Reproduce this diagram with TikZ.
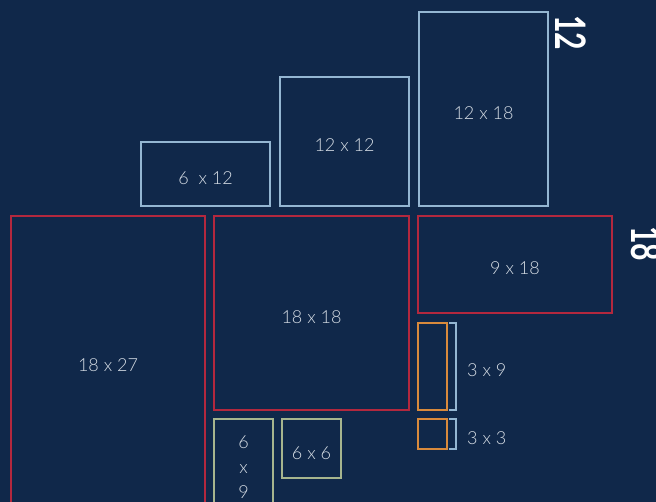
\documentclass[tikz,border=0pt]{standalone}
\usepackage{fontspec}
\setmainfont{Lato}
\newfontfamily\thinfont{Lato Light}
\usetikzlibrary{positioning}
\definecolor{PNavy}{HTML}{10284A}
\definecolor{PSky}{HTML}{94B6D2}
\definecolor{PRed}{HTML}{B3283E}
\definecolor{POrange}{HTML}{D98A3C}
\definecolor{PSage}{HTML}{A6B58E}
\definecolor{PText}{HTML}{D6DDE5}

\begin{document}
\begin{tikzpicture}[x=1pt,y=-1pt,
    box/.style={draw,line width=1.7pt,inner sep=0pt,outer sep=0pt,anchor=north west,text=PText,text height=21pt,text depth=0pt,font=\thinfont\fontsize{18}{25}\selectfont},
    skybox/.style={box,draw=PSky},
    redbox/.style={box,draw=PRed},
    orangebox/.style={box,draw=POrange},
    sagebox/.style={box,draw=PSage},
    sizelabel/.style={inner sep=0pt,text=PText,text height=21pt,text depth=0pt,font=\thinfont\fontsize{18}{25}\selectfont},
    bigside/.style={inner sep=0pt,text=white,rotate=-90,font=\bfseries\fontsize{42}{42}\selectfont},
    bracket/.style={draw=PSky,line width=1.2pt}]
    \fill[PNavy] (0,0) rectangle (656,502);
    \clip (0,0) rectangle (656,502);

    \node[redbox,minimum width=194,minimum height=291] (s1827) at (11,216) {18 x 27};
    \node[redbox,minimum width=195,minimum height=194,right=9pt of s1827.north east,anchor=north west] (s1818) {18 x 18};
    \node[redbox,minimum width=194,minimum height=97,right=9pt of s1818.north east,anchor=north west] (s918) {9 x 18};

    \node[skybox,minimum width=129,minimum height=64] (s612) at (141,142) {6 \ x 12};
    \node[skybox,minimum width=129,minimum height=129,right=10pt of s612.south east,anchor=south west] (s1212) {12 x 12};
    \node[skybox,minimum width=129,minimum height=194,right=10pt of s1212.south east,anchor=south west] (s1218) {12 x 18};

    \node[sagebox,minimum width=59,minimum height=97,text height=,text depth=,align=center,below=9pt of s1818.south west,anchor=north west] (s69) {6\\x\\9};
    \node[sagebox,minimum width=59,minimum height=59,right=9pt of s69.north east,anchor=north west] (s66) {6 x 6};

    \node[orangebox,minimum width=29,minimum height=87,below=10pt of s918.south west,anchor=north west] (s39) {};
    \node[orangebox,minimum width=29,minimum height=30,below=9pt of s39.south west,anchor=north west] (s33) {};

    \draw[bracket] ([xshift=2pt]s39.north east) -- ++(7,0) |- ([xshift=2pt]s39.south east);
    \draw[bracket] ([xshift=2pt]s33.north east) -- ++(7,0) |- ([xshift=2pt]s33.south east);
    \node[sizelabel,right=20pt of s39] (l39) {3 x 9};
    \node[sizelabel,right=20pt of s33] (l33) {3 x 3};

    \node[bigside] (side12) at (571,33) {\scalebox{0.72}[1]{12}};
    \node[bigside] (side18) at (647,244) {\scalebox{0.72}[1]{18}};
\end{tikzpicture}
\end{document}
